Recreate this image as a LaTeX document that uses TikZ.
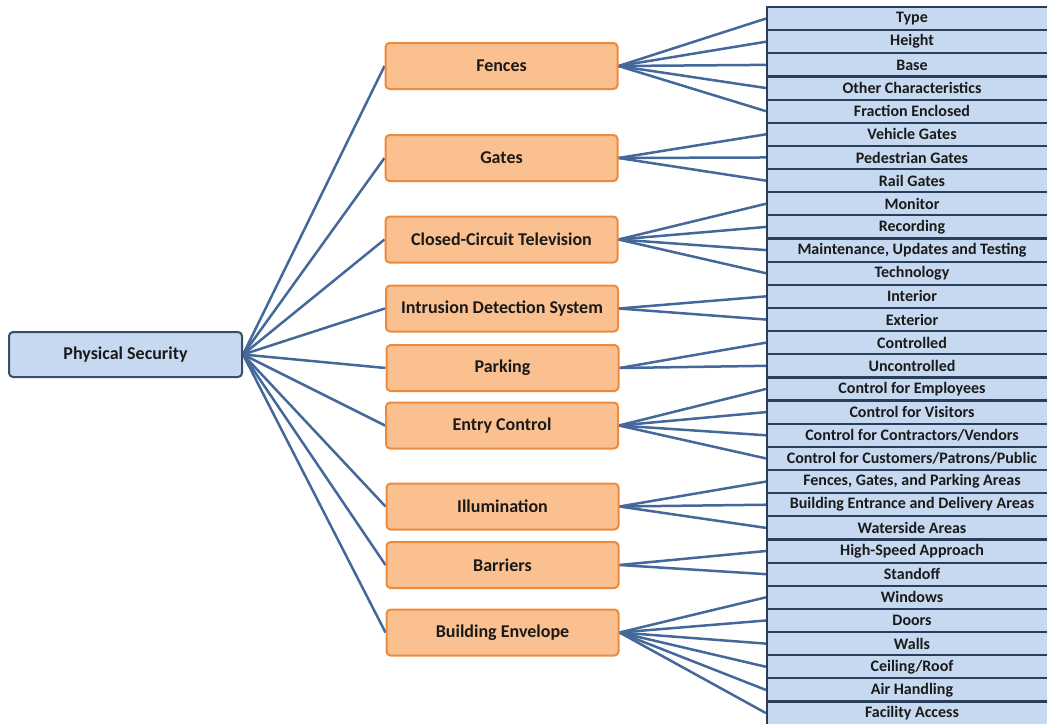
\documentclass[tikz,border=0pt]{standalone}
\usepackage{fontspec}
\setmainfont{Carlito}
\usetikzlibrary{backgrounds}
\definecolor{bluefill}{HTML}{C6D9F1}
\definecolor{rootedge}{HTML}{3B4E68}
\definecolor{orangefill}{HTML}{FAC090}
\definecolor{orangeedge}{HTML}{EE8A3C}
\definecolor{itemedge}{HTML}{2A3E5A}
\definecolor{linkblue}{HTML}{44689A}
\definecolor{labeltext}{HTML}{1A1A1A}
\begin{document}
\begin{tikzpicture}[x=1pt,y=-1pt,
  every node/.style={text=labeltext, inner sep=0pt},
  rootbox/.style={draw=rootedge, fill=bluefill, line width=2pt, rounded corners=4pt,
    minimum width=233pt, minimum height=45pt, font=\bfseries\fontsize{18}{20}\selectfont},
  topic/.style={draw=orangeedge, fill=orangefill, line width=2pt, rounded corners=4pt,
    minimum width=232pt, minimum height=46pt, font=\bfseries\fontsize{18}{20}\selectfont},
  item/.style={draw=itemedge, fill=bluefill, line width=2.2pt,
    minimum width=290pt, minimum height=23.15pt, font=\bfseries\fontsize{16}{18}\selectfont},
  link/.style={draw=linkblue, line width=2.5pt}
]
\useasboundingbox (0,0) rectangle (1047,723);
\clip (0,0) rectangle (1047,723);

% root of the tree
\node[rootbox] (root) at (125.5,354.5) {Physical Security};

% second level
\node[topic] (fences)   at (501.5,66)  {Fences};
\node[topic] (gates)    at (501.5,158) {Gates};
\node[topic] (cctv)     at (501.5,239.5) {Closed-Circuit Television};
\node[topic] (ids)      at (502,308.5) {Intrusion Detection System};
\node[topic] (parking)  at (502.5,368) {Parking};
\node[topic] (entry)    at (502,425.5) {Entry Control};
\node[topic] (illum)    at (502.5,506.5) {Illumination};
\node[topic] (barriers) at (502.5,565) {Barriers};
\node[topic] (envelope) at (502.5,632.5) {Building Envelope};

% third level: one stacked column of items
\foreach \t [count=\k] in {Type, Height, Base, Other Characteristics, Fraction Enclosed,
  Vehicle Gates, Pedestrian Gates, Rail Gates,
  Monitor, Recording, {Maintenance, Updates and Testing}, Technology,
  Interior, Exterior,
  Controlled, Uncontrolled,
  Control for Employees, Control for Visitors, Control for Contractors/Vendors,
  Control for Customers/Patrons/Public,
  {Fences, Gates, and Parking Areas}, Building Entrance and Delivery Areas, Waterside Areas,
  High-Speed Approach, Standoff,
  Windows, Doors, Walls, Ceiling/Roof, Air Handling, Facility Access}
  \node[item] (i\k) at (912, {7+23.15*(\k-0.5)}) {\t};

\begin{scope}[on background layer]
  \foreach \m in {fences,gates,cctv,ids,parking,entry,illum,barriers,envelope}
    \draw[link] (root.east) -- (\m.west);
  \foreach \m/\a/\b in {fences/1/5, gates/6/8, cctv/9/12, ids/13/14, parking/15/16,
      entry/17/20, illum/21/23, barriers/24/25, envelope/26/31}
    \foreach \k in {\a,...,\b}
      \draw[link] (\m.east) -- (i\k.west);
\end{scope}
\end{tikzpicture}
\end{document}
